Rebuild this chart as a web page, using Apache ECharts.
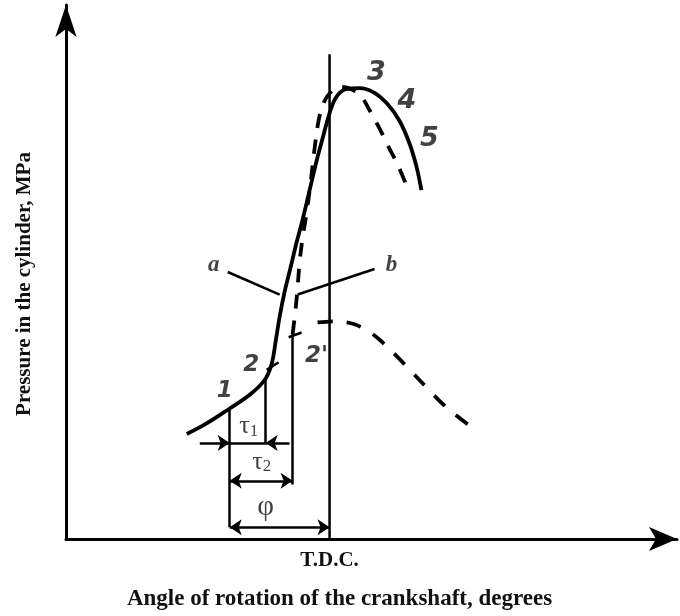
<!DOCTYPE html>
<html><head><meta charset="utf-8">
<script src="https://cdn.jsdelivr.net/npm/echarts@6/dist/echarts.min.js"></script>
<style>html,body{margin:0;padding:0;background:#fff}#c{width:680px;height:616px}</style>
</head><body><div id="c"></div>
<script>
// x: crank angle, degrees relative to T.D.C.; y: cylinder pressure, MPa (schematic)
const xTicks = [-44, 0, 44];
const xTickNames = ['', 'T.D.C.', ''];
const solidCurve = [[-23.83,1.77],[-20.83,1.93],[-16.67,2.2],[-13.33,2.43],[-10.83,2.68],[-9.67,2.95],[-9.0,3.33],[-8.33,3.75],[-7.5,4.17],[-6.5,4.58],[-5.5,5.0],[-4.5,5.38],[-3.33,5.88],[-2.17,6.37],[-1.17,6.75],[-0.17,7.12],[1.0,7.43],[2.67,7.58],[5.0,7.6],[7.5,7.52],[9.67,7.33],[11.67,7.05],[13.33,6.67],[14.5,6.28],[15.33,5.88]];
const dashedUpper = [[-6.17,3.45],[-5.67,3.88],[-5.33,4.25],[-5.0,4.67],[-4.5,5.08],[-3.83,5.5],[-3.17,6.0],[-2.5,6.58],[-1.83,7.05],[-1.0,7.35],[0.17,7.53],[1.67,7.62],[3.67,7.58],[5.33,7.45],[6.83,7.2],[8.33,6.92],[10.0,6.58],[11.5,6.28],[13.0,5.92]];
const dashedLower = [[-2.0,3.65],[0.83,3.67],[4.17,3.62],[7.5,3.43],[10.83,3.12],[15.0,2.68],[19.17,2.25],[24.17,1.85]];
const tdcLine = [[0,8.17],[0,0]];
const guideLines = [
  [[-16.67,2.2],[-16.67,0.2]],
  [[-10.67,2.7],[-10.67,1.62]],
  [[-6.17,3.45],[-6.17,0.92]],
  [[-17.0,4.5],[-8.33,4.12]],
  [[7.5,4.55],[-5.33,4.12]],
  [[-10.5,2.85],[-8.5,2.98]],
  [[-6.83,3.4],[-4.67,3.48]],
  [[-16.67,1.62],[-10.67,1.62]]
];
const outsideArrows = [
  [[-21.67,1.62],[-16.67,1.62]],
  [[-6.67,1.62],[-10.67,1.62]]
];
const doubleArrows = [
  [[-16.67,0.98],[-6.17,0.98]],
  [[-16.67,0.2],[0,0.2]]
];
const smallPointLabels = [['1',-17.5,2.5],['2',-13.08,2.94],["2'",-2.17,3.08]];
const bigPointLabels = [['3',7.83,7.85],['4',12.92,7.39],['5',16.67,6.75]];
const letterLabels = [['a',-19.33,4.62],['b',10.33,4.62]];
const greekLabels = [['{t|τ}{s|1}',-13.5,1.9],['{t|τ}{s|2}',-11.33,1.3],['{p|φ}',-10.67,0.53]];

const chart = echarts.init(document.getElementById('c'));
const serif = '"Liberation Serif", "Times New Roman", serif';
const hand = '"DejaVu Sans", sans-serif';
function labelSeries(arr, style) {
  return {
    type: 'scatter', symbolSize: 1, itemStyle: {color: 'rgba(0,0,0,0)'}, silent: true,
    data: arr.map(d => ({value: [d[1], d[2]], name: d[0]})),
    label: Object.assign({show: true, position: 'inside', formatter: p => p.name, color: '#111'}, style)
  };
}
chart.setOption({
  animation: false,
  grid: {left: 66, right: 2, top: 5, bottom: 71},
  xAxis: {
    type: 'value', min: -44, max: 58, interval: 44,
    axisLine: {lineStyle: {color: '#000', width: 3}, symbol: ['none', 'arrow'], symbolSize: [18, 28]},
    axisTick: {show: false}, splitLine: {show: false},
    axisLabel: {formatter: v => xTickNames[xTicks.indexOf(v)] || '', color: '#111', fontFamily: serif, fontWeight: 'bold', fontSize: 21, margin: 11},
    name: 'Angle of rotation of the crankshaft, degrees', nameLocation: 'middle', nameGap: 49,
    nameTextStyle: {color: '#111', fontFamily: serif, fontWeight: 'bold', fontSize: 23, padding: [0, 64, 0, 0]}
  },
  yAxis: {
    type: 'value', min: 0, max: 9,
    axisLine: {onZero: false, lineStyle: {color: '#000', width: 3}, symbol: ['none', 'arrow'], symbolSize: [16, 32]},
    axisTick: {show: false}, splitLine: {show: false}, axisLabel: {show: false},
    name: 'Pressure in the cylinder, MPa', nameLocation: 'middle', nameGap: 31, nameRotate: 90,
    nameTextStyle: {color: '#111', fontFamily: serif, fontWeight: 'bold', fontSize: 21, padding: [0, 24, 0, 0]}
  },
  series: [
    {type: 'line', data: tdcLine, symbol: 'none', lineStyle: {color: '#000', width: 2.5}},
    {type: 'line', data: solidCurve, smooth: 0.35, symbol: 'none', lineStyle: {color: '#000', width: 3.8}},
    {type: 'line', data: dashedUpper, smooth: 0.35, symbol: 'none', lineStyle: {color: '#000', width: 3.8, type: [14, 12]}},
    {type: 'line', data: dashedLower, smooth: 0.3, symbol: 'none', lineStyle: {color: '#000', width: 3.8, type: [15, 14]}},
    {type: 'lines', coordinateSystem: 'cartesian2d', silent: true, data: guideLines.map(c => ({coords: c})), lineStyle: {color: '#000', width: 2.5, opacity: 1}},
    {type: 'lines', coordinateSystem: 'cartesian2d', silent: true, symbol: ['none', 'arrow'], symbolSize: 12, data: outsideArrows.map(c => ({coords: c})), lineStyle: {color: '#000', width: 2.5, opacity: 1}},
    {type: 'lines', coordinateSystem: 'cartesian2d', silent: true, symbol: ['arrow', 'arrow'], symbolSize: 12, data: doubleArrows.map(c => ({coords: c})), lineStyle: {color: '#000', width: 2.5, opacity: 1}},
    labelSeries(smallPointLabels, {fontFamily: hand, fontStyle: 'italic', fontWeight: 'bold', fontSize: 23}),
    labelSeries(bigPointLabels, {fontFamily: hand, fontStyle: 'italic', fontWeight: 'bold', fontSize: 27}),
    labelSeries(letterLabels, {fontFamily: serif, fontStyle: 'italic', fontWeight: 'bold', fontSize: 23}),
    labelSeries(greekLabels, {fontFamily: serif, rich: {
      t: {fontFamily: serif, fontSize: 26, color: '#111'},
      s: {fontFamily: serif, fontSize: 17, color: '#111', verticalAlign: 'bottom', padding: [10, 0, 0, 0]},
      p: {fontFamily: serif, fontSize: 29, color: '#111'}
    }})
  ]
});
</script></body></html>
